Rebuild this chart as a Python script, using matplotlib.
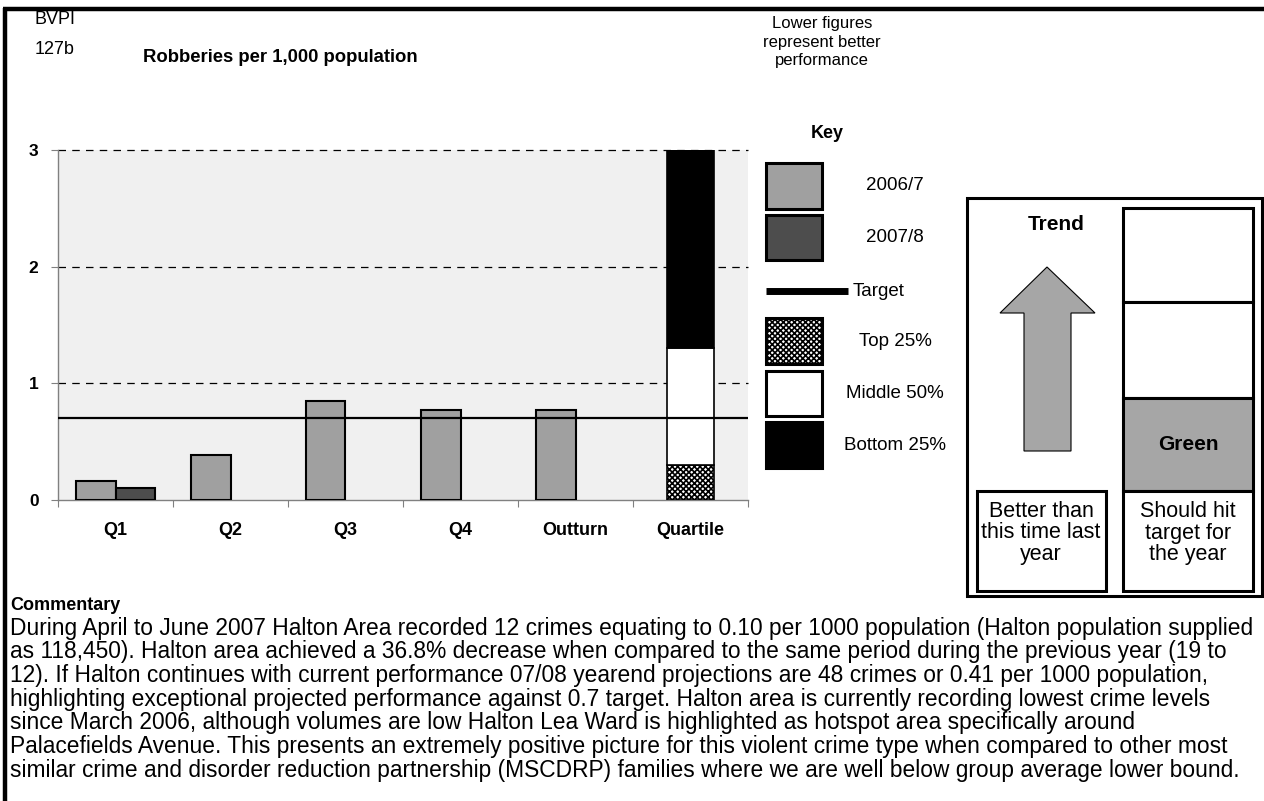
import numpy as np
import matplotlib.pyplot as plt
from matplotlib.patches import Rectangle, Polygon

plt.rcParams['font.family'] = ['Liberation Sans', 'DejaVu Sans']
plt.rcParams['hatch.linewidth'] = 1.2

W, H = 1264, 801

# robberies per 1,000 population
periods = ['Q1', 'Q2', 'Q3', 'Q4', 'Outturn', 'Quartile']
rate_2006_7 = [0.16, 0.39, 0.85, 0.77, 0.77]
rate_2007_8 = [0.10, np.nan, np.nan, np.nan, np.nan]
target = 0.7
quartile_bands = ['Top 25%', 'Middle 50%', 'Bottom 25%']
quartile_upper = [0.30, 1.30, 3.0]

c_0607 = '#a0a0a0'
c_0708 = '#4d4d4d'
c_back = '#f0f0f0'

commentary = [
    "During April to June 2007 Halton Area recorded 12 crimes equating to 0.10 per 1000 population (Halton population supplied",
    "as 118,450). Halton area achieved a 36.8% decrease when compared to the same period during the previous year (19 to",
    "12). If Halton continues with current performance 07/08 yearend projections are 48 crimes or 0.41 per 1000 population,",
    "highlighting exceptional projected performance against 0.7 target. Halton area is currently recording lowest crime levels",
    "since March 2006, although volumes are low Halton Lea Ward is highlighted as hotspot area specifically around",
    "Palacefields Avenue. This presents an extremely positive picture for this violent crime type when compared to other most",
    "similar crime and disorder reduction partnership (MSCDRP) families where we are well below group average lower bound.",
]

fig = plt.figure(figsize=(W / 100, H / 100), dpi=100)

# page layer in pixel coordinates
deco = fig.add_axes([0, 0, 1, 1])
deco.set_xlim(0, W)
deco.set_ylim(H, 0)
deco.axis('off')

# ---- main bar chart ----
ax = fig.add_axes([58 / W, 1 - 500 / H, 690 / W, 350 / H])
ax.set_facecolor(c_back)
x = np.arange(len(periods))
bw = 0.34
ax.bar(x[:5] - bw / 2, rate_2006_7, bw, color=c_0607, edgecolor='black', linewidth=1.5, zorder=3)
ax.bar(x[:5] + bw / 2, rate_2007_8, bw, color=c_0708, edgecolor='black', linewidth=1.5, zorder=3)

q_fill = ['white', 'white', 'black']
q_hatch = ['xxxxxx', None, None]
lower = 0
for top, fc, hat in zip(quartile_upper, q_fill, q_hatch):
    ax.bar(x[5], top - lower, 0.41, bottom=lower, color=fc, hatch=hat,
           edgecolor='black', linewidth=1.2, zorder=3)
    lower = top

ax.axhline(target, color='black', linewidth=1.6, zorder=4)

ax.set_xlim(-0.5, 5.5)
ax.set_ylim(0, 3)
ax.set_yticks([0, 1, 2, 3])
for g in [1, 2, 3]:
    ax.axhline(g, color='black', linewidth=0.9, dashes=(6, 5), zorder=1, clip_on=False)
ax.set_xticks(np.arange(-0.5, 6, 1))
ax.set_xticklabels([])
ax.set_xticks(x, minor=True)
ax.set_xticklabels(periods, minor=True, fontsize=13, fontweight='bold')
ax.tick_params(axis='x', which='minor', length=0, pad=16)
ax.tick_params(axis='x', which='major', length=5, color='#808080', direction='out')
ax.tick_params(axis='y', length=5, color='#808080', pad=9, labelsize=12.5)
for lab in ax.get_yticklabels():
    lab.set_fontweight('bold')
for s in ['top', 'right']:
    ax.spines[s].set_visible(False)
for s in ['left', 'bottom']:
    ax.spines[s].set_color('#808080')
    ax.spines[s].set_linewidth(1.0)

# ---- page frame and headings ----
deco.plot([5, 5], [8, H], color='black', linewidth=3.2, solid_capstyle='butt')
deco.plot([3, W], [9, 9], color='black', linewidth=3.2, solid_capstyle='butt')
deco.text(35, 20, 'BVPI', fontsize=13, va='center', ha='left')
deco.text(35, 49, '127b', fontsize=13, va='center', ha='left')
deco.text(280, 57, 'Robberies per 1,000 population', fontsize=13.3, fontweight='bold',
          va='center', ha='center')
deco.text(822, 42, 'Lower figures\nrepresent better\nperformance', fontsize=12,
          va='center', ha='center', linespacing=1.3)
deco.text(827, 133, 'Key', fontsize=13, fontweight='bold', va='center', ha='center')

# ---- key ----
key_swatches = [('2006/7', c_0607, None, 163, 209),
                ('2007/8', c_0708, None, 215, 260),
                ('Top 25%', 'white', 'xxxxxx', 318, 364),
                ('Middle 50%', 'white', None, 371, 416),
                ('Bottom 25%', 'black', None, 422, 468)]
for lab, fc, hat, y0, y1 in key_swatches:
    deco.add_patch(Rectangle((766, y0), 56, y1 - y0, facecolor=fc, hatch=hat,
                             edgecolor='black', linewidth=2.2))
    deco.text(895, (y0 + y1) / 2, lab, fontsize=13.5, va='center', ha='center')
deco.plot([766, 848], [291, 291], color='black', linewidth=5, solid_capstyle='butt')
deco.text(853, 291, 'Target', fontsize=13.5, va='center', ha='left')

# ---- trend / forecast panel ----
deco.add_patch(Rectangle((967, 198), 295, 398, facecolor='white', edgecolor='black', linewidth=2.2))
deco.text(1056, 225, 'Trend', fontsize=15, fontweight='bold', va='center', ha='center')
arrow = [(1047, 267), (1095, 313), (1071, 313), (1071, 451), (1024, 451), (1024, 313), (1000, 313)]
deco.add_patch(Polygon(arrow, closed=True, facecolor='#a6a6a6', edgecolor='black', linewidth=0.8))
deco.add_patch(Rectangle((977, 491), 129, 100, facecolor='white', edgecolor='black', linewidth=2.2))
deco.text(1041, 533, 'Better than\nthis time last\nyear', fontsize=15.5, va='center', ha='center',
          linespacing=1.05)

col = [(208, 302, 'white'), (302, 398, 'white'), (398, 491, '#a6a6a6')]
for y0, y1, fc in col:
    deco.add_patch(Rectangle((1123, y0), 130, y1 - y0, facecolor=fc, edgecolor='black', linewidth=2.2))
deco.text(1188, 445, 'Green', fontsize=15, fontweight='bold', va='center', ha='center')
deco.add_patch(Rectangle((1123, 491), 130, 100, facecolor='white', edgecolor='black', linewidth=2.2))
deco.text(1188, 533, 'Should hit\ntarget for\nthe year', fontsize=15.5, va='center', ha='center',
          linespacing=1.05)

# ---- commentary ----
deco.text(10, 605, 'Commentary', fontsize=13, fontweight='bold', va='center', ha='left')
for i, line in enumerate(commentary):
    deco.text(10, 628 + i * 23.7, line, fontsize=16.4, va='center', ha='left', clip_on=False)

fig.savefig('out.png', dpi=100)
